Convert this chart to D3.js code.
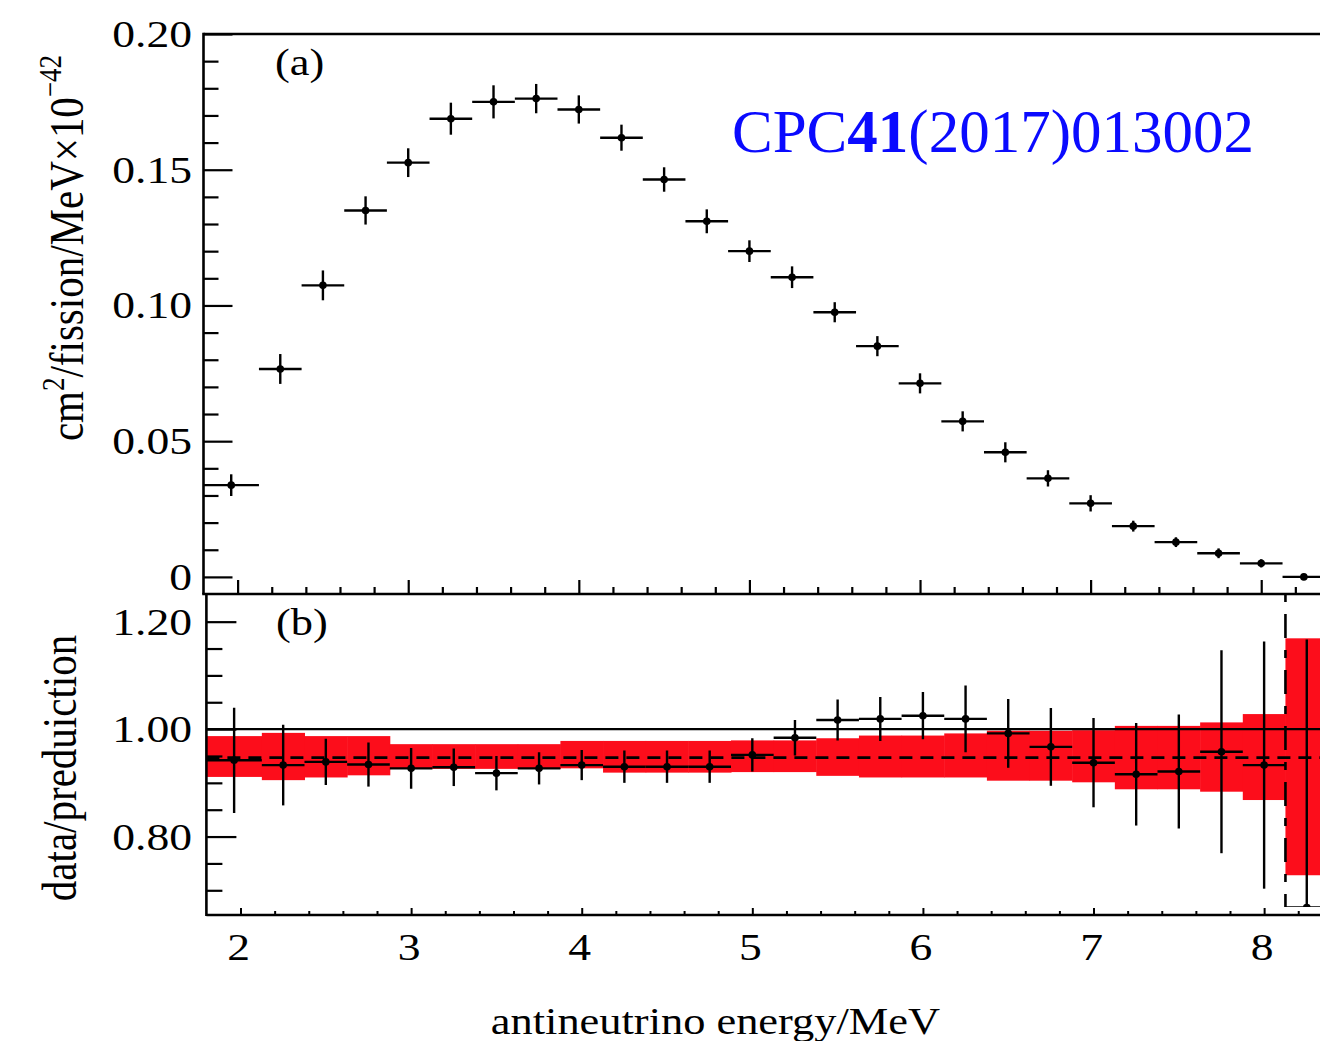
<!DOCTYPE html>
<html><head><meta charset="utf-8">
<script src="https://cdn.jsdelivr.net/npm/d3@7"></script>
<style>html,body{margin:0;padding:0;background:#fff;} svg{display:block;}</style>
</head><body><svg id="chart" width="1320" height="1041"></svg>
<script>
// ---------- data ----------
const binEdges = [1.8, 2.125, 2.375, 2.625, 2.875, 3.125, 3.375, 3.625, 3.875, 4.125, 4.375, 4.625, 4.875,
  5.125, 5.375, 5.625, 5.875, 6.125, 6.375, 6.625, 6.875, 7.125, 7.375, 7.625, 7.875, 8.125, 8.375];
const binCenters = [1.9625, 2.25, 2.5, 2.75, 3.0, 3.25, 3.5, 3.75, 4.0, 4.25, 4.5, 4.75, 5.0,
  5.25, 5.5, 5.75, 6.0, 6.25, 6.5, 6.75, 7.0, 7.25, 7.5, 7.75, 8.0, 8.25];
const spectrum = [0.0338, 0.0766, 0.1074, 0.1350, 0.1526, 0.1688, 0.1750, 0.1762, 0.1722, 0.1618, 0.1464, 0.1310, 0.1200,
  0.1104, 0.0975, 0.0850, 0.0713, 0.0573, 0.0459, 0.0363, 0.0271, 0.0187, 0.0128, 0.0087, 0.0050, 0.0000];
const spectrumErr = [0.0040, 0.0055, 0.0055, 0.0052, 0.0053, 0.0059, 0.0061, 0.0054, 0.0052, 0.0048, 0.0045, 0.0044, 0.0040,
  0.0040, 0.0037, 0.0037, 0.0037, 0.0037, 0.0037, 0.0030, 0.0030, 0.0020, 0.0018, 0.0018, 0.0015, 0.0008];
const ratio = [0.942, 0.933, 0.939, 0.934, 0.927, 0.929, 0.918, 0.927, 0.933, 0.930, 0.930, 0.930, 0.952,
  0.984, 1.017, 1.019, 1.025, 1.019, 0.992, 0.967, 0.9375, 0.916, 0.921, 0.958, 0.933, 0.668];
const ratioErr = [0.098, 0.075, 0.043, 0.041, 0.038, 0.035, 0.032, 0.030, 0.028, 0.030, 0.030, 0.030, 0.031,
  0.033, 0.038, 0.041, 0.044, 0.062, 0.064, 0.0725, 0.083, 0.0955, 0.106, 0.189, 0.230, 0.499];
const bandLow = [0.911, 0.905, 0.910, 0.914, 0.926, 0.926, 0.926, 0.926, 0.927, 0.919, 0.919, 0.919, 0.920,
  0.920, 0.913, 0.910, 0.910, 0.910, 0.904, 0.904, 0.901, 0.888, 0.888, 0.8835, 0.868, 0.728];
const bandHigh = [0.987, 0.993, 0.987, 0.987, 0.972, 0.972, 0.972, 0.972, 0.978, 0.978, 0.978, 0.978, 0.979,
  0.979, 0.983, 0.988, 0.988, 0.992, 0.997, 0.997, 0.998, 1.006, 1.006, 1.0125, 1.028, 1.169];
const ratioReference = 0.947;
const ratioUnity = 1.0;
const cutEnergy = 8.125;
const yTopTicks = [0, 0.05, 0.10, 0.15, 0.20];
const yTopTickLabels = ["0", "0.05", "0.10", "0.15", "0.20"];
const yBotTicks = [0.80, 1.00, 1.20];
const yBotTickLabels = ["0.80", "1.00", "1.20"];
const xTicks = [2, 3, 4, 5, 6, 7, 8];
const xTickLabels = ["2", "3", "4", "5", "6", "7", "8"];

// ---------- layout ----------
const svg = d3.select("#chart");
svg.append("rect").attr("width", 1320).attr("height", 1041).attr("fill", "#fff");
const FONT = "'Liberation Serif','Times New Roman',serif";
const SX = 1.2;   // horizontal stretch of the original figure
const PX_PER_MEV = 170.6;

const xTop = d3.scaleLinear().domain([1.8, 8.8]).range([203.5, 203.5 + 7 * PX_PER_MEV]);
const yTop = d3.scaleLinear().domain([-0.0063, 0.20]).range([594, 34]);
const xBot = d3.scaleLinear().domain([1.8, 8.8]).range([206.4, 206.4 + 7 * PX_PER_MEV]);
const yBot = d3.scaleLinear().domain([0.654, 1.2515]).range([915, 594]);

const red = "#fc0d1b";

function label(x, y, str, anchor, size) {
  const g = svg.append("g").attr("transform", `translate(${x},${y}) scale(${SX},1)`);
  return g.append("text").attr("text-anchor", anchor).attr("font-family", FONT)
    .attr("font-size", size).attr("fill", "#000").text(str);
}

// ---------- bottom panel (b) ----------
svg.append("clipPath").attr("id", "clipBot").append("rect")
  .attr("x", xBot(1.8)).attr("y", 594).attr("width", 1320).attr("height", 313);
const gB = svg.append("g").attr("clip-path", "url(#clipBot)");

// red systematic band
gB.selectAll("rect.band").data(binCenters).join("rect").attr("class", "band")
  .attr("x", (d, i) => xBot(binEdges[i]))
  .attr("width", (d, i) => xBot(binEdges[i + 1]) - xBot(binEdges[i]) + 0.5)
  .attr("y", (d, i) => yBot(bandHigh[i]))
  .attr("height", (d, i) => yBot(bandLow[i]) - yBot(bandHigh[i]))
  .attr("fill", red);

// unity line
gB.append("line").attr("x1", xBot(1.8)).attr("x2", xBot(8.8))
  .attr("y1", yBot(ratioUnity)).attr("y2", yBot(ratioUnity))
  .attr("stroke", "#000").attr("stroke-width", 2.2);
// dashed reference line
gB.append("line").attr("x1", xBot(1.8)).attr("x2", xBot(8.8))
  .attr("y1", yBot(ratioReference)).attr("y2", yBot(ratioReference))
  .attr("stroke", "#000").attr("stroke-width", 2.6).attr("stroke-dasharray", "13,8");
// dashed vertical cut line
gB.append("line").attr("x1", xBot(cutEnergy)).attr("x2", xBot(cutEnergy))
  .attr("y1", 594).attr("y2", 915)
  .attr("stroke", "#000").attr("stroke-width", 2.6).attr("stroke-dasharray", "8,12,24,12");

// ratio points
const ptsB = gB.selectAll("g.pt").data(binCenters).join("g").attr("class", "pt");
ptsB.append("line")
  .attr("x1", (d, i) => xBot(binEdges[i])).attr("x2", (d, i) => xBot(binEdges[i + 1]))
  .attr("y1", (d, i) => yBot(ratio[i])).attr("y2", (d, i) => yBot(ratio[i]))
  .attr("stroke", "#000").attr("stroke-width", 2.4);
ptsB.append("line")
  .attr("x1", d => xBot(d)).attr("x2", d => xBot(d))
  .attr("y1", (d, i) => yBot(ratio[i] - ratioErr[i])).attr("y2", (d, i) => yBot(ratio[i] + ratioErr[i]))
  .attr("stroke", "#000").attr("stroke-width", 2.4);
ptsB.append("circle").attr("cx", d => xBot(d)).attr("cy", (d, i) => yBot(ratio[i]))
  .attr("r", 3.8).attr("fill", "#000");

// ---------- top panel (a) ----------
const ptsA = svg.append("g").selectAll("g.pt").data(binCenters).join("g").attr("class", "pt");
ptsA.append("line")
  .attr("x1", (d, i) => xTop(binEdges[i])).attr("x2", (d, i) => Math.min(xTop(binEdges[i + 1]), 1320))
  .attr("y1", (d, i) => yTop(spectrum[i])).attr("y2", (d, i) => yTop(spectrum[i]))
  .attr("stroke", "#000").attr("stroke-width", 2.4);
ptsA.append("line")
  .attr("x1", d => xTop(d)).attr("x2", d => xTop(d))
  .attr("y1", (d, i) => yTop(spectrum[i] - spectrumErr[i])).attr("y2", (d, i) => yTop(spectrum[i] + spectrumErr[i]))
  .attr("stroke", "#000").attr("stroke-width", 2.4);
ptsA.append("circle").attr("cx", d => xTop(d)).attr("cy", (d, i) => yTop(spectrum[i]))
  .attr("r", 3.8).attr("fill", "#000");

// ---------- axes & frames ----------
function styleAxis(g, w) {
  g.select(".domain").remove();
  g.selectAll(".tick line").attr("stroke", "#000").attr("stroke-width", w);
  g.selectAll(".tick text").remove();
}
const xMinor = d3.range(1.8, 8.81, 0.2).map(v => +v.toFixed(2)).filter(v => Math.abs(v - Math.round(v)) > 1e-6);

// top panel left axis (ticks inward)
svg.append("g").attr("transform", "translate(203.5,0)")
  .call(d3.axisRight(yTop).tickValues(yTopTicks).tickSize(29)).call(g => styleAxis(g, 2.2));
svg.append("g").attr("transform", "translate(203.5,0)")
  .call(d3.axisRight(yTop).tickValues(d3.range(0.01, 0.2, 0.01).filter(v => Math.abs(v * 20 - Math.round(v * 20)) > 1e-6)).tickSize(15))
  .call(g => styleAxis(g, 2.2));
// top panel bottom axis (ticks upward)
svg.append("g").attr("transform", "translate(0,594)")
  .call(d3.axisTop(xTop).tickValues(xTicks).tickSize(14)).call(g => styleAxis(g, 2.2));
svg.append("g").attr("transform", "translate(0,594)")
  .call(d3.axisTop(xTop).tickValues(xMinor.filter(v => v > 1.85)).tickSize(7)).call(g => styleAxis(g, 2.2));

// bottom panel left axis
const yBotMinor = [0.70, 0.75, 0.85, 0.90, 0.95, 1.05, 1.10, 1.15];
svg.append("g").attr("transform", "translate(206.4,0)")
  .call(d3.axisRight(yBot).tickValues(yBotTicks).tickSize(30)).call(g => styleAxis(g, 2.2));
svg.append("g").attr("transform", "translate(206.4,0)")
  .call(d3.axisRight(yBot).tickValues(yBotMinor).tickSize(16)).call(g => styleAxis(g, 2.2));
// bottom panel bottom axis
svg.append("g").attr("transform", "translate(0,915)")
  .call(d3.axisTop(xBot).tickValues(xTicks).tickSize(7)).call(g => styleAxis(g, 2));
svg.append("g").attr("transform", "translate(0,915)")
  .call(d3.axisTop(xBot).tickValues(xMinor.filter(v => v > 1.85)).tickSize(4)).call(g => styleAxis(g, 2));

// frames
const frame = svg.append("g").attr("stroke", "#000").attr("stroke-width", 2.6).attr("fill", "none");
frame.append("line").attr("x1", xTop(1.8)).attr("x2", 1320).attr("y1", yTop(0.2)).attr("y2", yTop(0.2));
frame.append("line").attr("x1", xTop(1.8)).attr("x2", xTop(1.8)).attr("y1", yTop(0.2) - 1.3).attr("y2", 594);
frame.append("line").attr("x1", xTop(1.8) - 1.3).attr("x2", 1320).attr("y1", 594).attr("y2", 594);
frame.append("line").attr("x1", xBot(1.8)).attr("x2", xBot(1.8)).attr("y1", 594).attr("y2", 916);
frame.append("line").attr("x1", xBot(1.8)).attr("x2", 1320).attr("y1", 915).attr("y2", 915);

// ---------- text ----------
yTopTicks.forEach((v, i) => label(192, yTop(v) + 13, yTopTickLabels[i], "end", 38));
yBotTicks.forEach((v, i) => label(192, yBot(v) + 13, yBotTickLabels[i], "end", 38));
xTicks.forEach((v, i) => label(xBot(v) - 2, 960, xTickLabels[i], "middle", 38));
label(940, 1034, "antineutrino energy/MeV", "end", 37);
label(275, 75, "(a)", "start", 37);
label(276, 635, "(b)", "start", 37);

// y titles (rotated)
const tTop = svg.append("g").attr("transform", `translate(83,248) scale(${SX},1) rotate(-90)`)
  .append("text").attr("text-anchor", "middle").attr("font-family", FONT).attr("font-size", 41).attr("fill", "#000");
tTop.append("tspan").text("cm");
tTop.append("tspan").attr("font-size", 27).attr("dy", -16).text("2");
tTop.append("tspan").attr("dy", 16).text("/fission/MeV×10");
tTop.append("tspan").attr("font-size", 27).attr("dy", -18).text("−42");

svg.append("g").attr("transform", `translate(76,768) scale(${SX},1) rotate(-90)`)
  .append("text").attr("text-anchor", "middle").attr("font-family", FONT).attr("font-size", 41).attr("fill", "#000")
  .text("data/preduiction");

// citation overlay
const cpc = svg.append("text").attr("x", 732).attr("y", 152).attr("font-family", FONT)
  .attr("font-size", 61).attr("fill", "#0a0aff");
cpc.append("tspan").text("CPC");
cpc.append("tspan").attr("font-weight", "bold").text("41");
cpc.append("tspan").text("(2017)013002");
</script></body></html>
